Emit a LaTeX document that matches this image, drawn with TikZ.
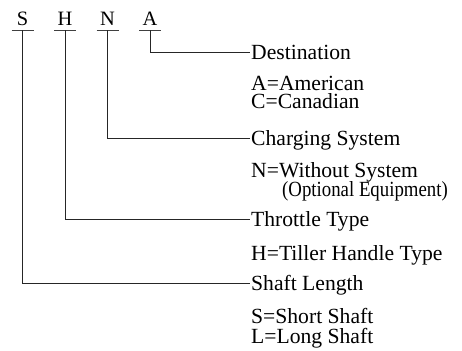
\documentclass[tikz,border=0pt]{standalone}
\usepackage{fontspec}
\setmainfont{Liberation Serif}
\newfontfamily\condfont[FakeStretch=0.87]{Liberation Serif}
\begin{document}
\begin{tikzpicture}[x=1bp,y=-1bp,
  letter/.style={anchor=base,inner sep=0pt,font=\fontsize{20.5}{20.5}\selectfont},
  head/.style={anchor=west,inner sep=0pt,text height=14bp,text depth=0pt,font=\fontsize{21.7}{21.7}\selectfont},
  sub/.style={anchor=base west,inner sep=0pt,font=\fontsize{21.7}{21.7}\selectfont},
  cond/.style={anchor=base west,inner sep=0pt,font=\condfont\fontsize{21.7}{21.7}\selectfont},
  uline/.style={line width=0.8bp,black!75},
  conn/.style={line width=0.8bp,black!85}]
\useasboundingbox (0,0) rectangle (462,350);
% letters
\node[letter] (S) at (22.5,25) {S};
\node[letter] (H) at (65,25) {H};
\node[letter] (N) at (107.5,25) {N};
\node[letter] (A) at (150,25) {A};
\foreach \n/\x in {S/22.5,H/65,N/107.5,A/150}{
  \coordinate (u\n) at (\x,30);
  \draw[uline] (\x-11,30) -- (\x+11,30);
}
% headings
\node[head] (dest) at (251,52) {Destination};
\node[head] (charg) at (251,138) {Charging System};
\node[head] (throt) at (251,219) {Throttle Type};
\node[head] (shaft) at (251,283) {Shaft Length};
% sub texts
\node[sub] (am) at (251,90.5) {A=American};
\node[sub] (ca) at (251,108.5) {C=Canadian};
\node[sub] (wo) at (251,177) {N=Without System};
\node[cond] (opt) at (282,196) {(Optional Equipment)};
\node[sub] (ti) at (251,260) {H=Tiller Handle Type};
\node[sub] (ss) at (251,323) {S=Short Shaft};
\node[sub] (ls) at (251,343) {L=Long Shaft};
% connectors
\draw[conn] (uA) |- ([xshift=-1bp]dest.west);
\draw[conn] (uN) |- ([xshift=-1bp]charg.west);
\draw[conn] (uH) |- ([xshift=-1bp]throt.west);
\draw[conn] (uS) |- ([xshift=-1bp]shaft.west);
\end{tikzpicture}
\end{document}
